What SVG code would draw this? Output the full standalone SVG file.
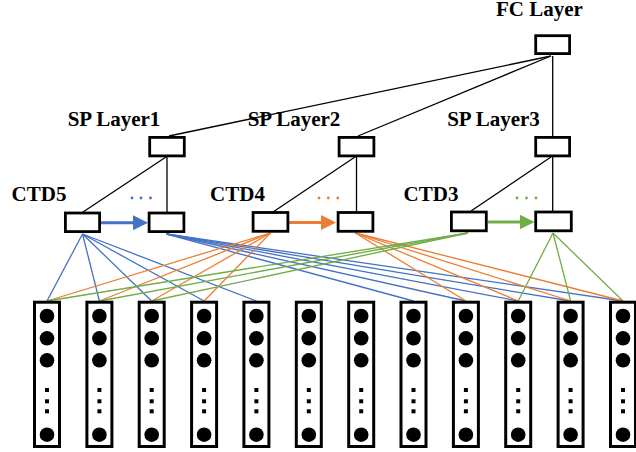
<svg xmlns="http://www.w3.org/2000/svg" xmlns:xlink="http://www.w3.org/1999/xlink" width="636" height="452" viewBox="0 0 636 452">
<style>
.lbl{font-family:"Liberation Serif","Times New Roman",serif;font-weight:bold;font-size:21px;fill:#000;text-anchor:middle}
.box{fill:#fff;stroke:#000;stroke-width:2.8}
.k{stroke:#000;stroke-width:1.3;fill:none}
.b{stroke:#4472C4;stroke-width:1.3;fill:none}
.o{stroke:#ED7D31;stroke-width:1.3;fill:none}
.g{stroke:#70AD47;stroke-width:1.3;fill:none}
.ab{stroke:#4472C4;stroke-width:3}
.ao{stroke:#ED7D31;stroke-width:3}
.ag{stroke:#70AD47;stroke-width:3}
</style>
<defs>
<marker id="mb" markerUnits="userSpaceOnUse" markerWidth="16" markerHeight="16" refX="2" refY="7.5" orient="auto"><path d="M0,0 L15,7.5 L0,15 z" fill="#4472C4"/></marker>
<marker id="mo" markerUnits="userSpaceOnUse" markerWidth="16" markerHeight="16" refX="2" refY="7.5" orient="auto"><path d="M0,0 L15,7.5 L0,15 z" fill="#ED7D31"/></marker>
<marker id="mg" markerUnits="userSpaceOnUse" markerWidth="16" markerHeight="16" refX="2" refY="7.5" orient="auto"><path d="M0,0 L15,7.5 L0,15 z" fill="#70AD47"/></marker>
<g id="column">
<rect x="-12.5" y="302.2" width="25" height="144.3" fill="#fff" stroke="#000" stroke-width="3"/>
<circle cx="0" cy="316" r="7.3"/>
<circle cx="0" cy="338.3" r="7.3"/>
<circle cx="0" cy="360.3" r="7.3"/>
<rect x="-2" y="388" width="4" height="4"/>
<rect x="-2" y="399.3" width="4" height="4"/>
<rect x="-2" y="409.3" width="4" height="4"/>
<circle cx="0" cy="434.7" r="7.3"/>
</g>
</defs>

<g id="connectors">
<!-- FC to SP -->
<line class="k" x1="551" y1="56" x2="169" y2="136"/>
<line class="k" x1="551" y1="56" x2="358" y2="136"/>
<line class="k" x1="552.7" y1="56" x2="552.7" y2="136"/>
<!-- SP to CTD -->
<line class="k" x1="166" y1="157" x2="83" y2="212"/>
<line class="k" x1="167" y1="157" x2="167" y2="212"/>
<line class="k" x1="355" y1="157" x2="273" y2="212"/>
<line class="k" x1="356.5" y1="157" x2="356.5" y2="212"/>
<line class="k" x1="551" y1="157" x2="471" y2="211"/>
<line class="k" x1="552.7" y1="157" x2="552.7" y2="211"/>
<!-- CTD5 blue -->
<line class="b" x1="82.5" y1="234" x2="47" y2="301"/>
<line class="b" x1="82.5" y1="234" x2="99.4" y2="301"/>
<line class="b" x1="82.5" y1="234" x2="151.7" y2="301"/>
<line class="b" x1="82.5" y1="234" x2="204.1" y2="301"/>
<line class="b" x1="82.5" y1="234" x2="256.4" y2="301"/>
<line class="b" x1="166.5" y1="234" x2="413.5" y2="301"/>
<line class="b" x1="166.5" y1="234" x2="465.9" y2="301"/>
<line class="b" x1="166.5" y1="234" x2="518.2" y2="301"/>
<line class="b" x1="166.5" y1="234" x2="570.6" y2="301"/>
<line class="b" x1="166.5" y1="234" x2="623" y2="301"/>
<!-- CTD4 orange -->
<line class="o" x1="270.5" y1="233" x2="47" y2="301"/>
<line class="o" x1="270.5" y1="233" x2="99.4" y2="301"/>
<line class="o" x1="270.5" y1="233" x2="151.7" y2="301"/>
<line class="o" x1="270.5" y1="233" x2="204.1" y2="301"/>
<line class="o" x1="355.5" y1="233" x2="465.9" y2="301"/>
<line class="o" x1="355.5" y1="233" x2="518.2" y2="301"/>
<line class="o" x1="355.5" y1="233" x2="570.6" y2="301"/>
<line class="o" x1="355.5" y1="233" x2="623" y2="301"/>
<!-- CTD3 green -->
<line class="g" x1="468" y1="233" x2="47" y2="301"/>
<line class="g" x1="468" y1="233" x2="99.4" y2="301"/>
<line class="g" x1="468" y1="233" x2="151.7" y2="301"/>
<line class="g" x1="553" y1="233" x2="518.2" y2="301"/>
<line class="g" x1="553" y1="233" x2="570.6" y2="301"/>
<line class="g" x1="553" y1="233" x2="623" y2="301"/>
<!-- arrows -->
<line class="ab" x1="101" y1="222.7" x2="135" y2="222.7" marker-end="url(#mb)"/>
<line class="ao" x1="289" y1="222.5" x2="323" y2="222.5" marker-end="url(#mo)"/>
<line class="ag" x1="488" y1="222" x2="521.5" y2="222" marker-end="url(#mg)"/>
</g>

<g id="fc"><rect class="box" x="535.7" y="35.7" width="33.9" height="17.9"/><text class="lbl" x="539.5" y="16">FC Layer</text></g>
<g id="sp1"><rect class="box" x="149.7" y="137.4" width="34.6" height="18.5"/><text class="lbl" x="114" y="126">SP Layer1</text></g>
<g id="sp2"><rect class="box" x="339.1" y="137.4" width="34.8" height="18.5"/><text class="lbl" x="294" y="126">SP Layer2</text></g>
<g id="sp3"><rect class="box" x="535.7" y="137.4" width="33.9" height="18.5"/><text class="lbl" x="493.5" y="126">SP Layer3</text></g>

<g id="ctd5">
<text class="lbl" x="39" y="201">CTD5</text>
<rect class="box" x="65.4" y="213" width="34.2" height="18.6"/>
<rect class="box" x="149.1" y="213" width="34.8" height="18.6"/>
<g fill="#4472C4"><circle cx="132" cy="198" r="1.4"/><circle cx="141" cy="198" r="1.4"/><circle cx="150.5" cy="198" r="1.4"/></g>
</g>
<g id="ctd4">
<text class="lbl" x="237.5" y="201">CTD4</text>
<rect class="box" x="253.1" y="212.5" width="34.8" height="18.8"/>
<rect class="box" x="338.1" y="212.5" width="34.8" height="18.8"/>
<g fill="#ED7D31"><circle cx="319" cy="198" r="1.4"/><circle cx="328.3" cy="198" r="1.4"/><circle cx="337.8" cy="198" r="1.4"/></g>
</g>
<g id="ctd3">
<text class="lbl" x="431" y="201">CTD3</text>
<rect class="box" x="451.4" y="212" width="34.9" height="18.8"/>
<rect class="box" x="535.7" y="212" width="35.6" height="18.8"/>
<g fill="#70AD47"><circle cx="517" cy="198" r="1.4"/><circle cx="526.5" cy="198" r="1.4"/><circle cx="536" cy="198" r="1.4"/></g>
</g>

<g id="col1"><use xlink:href="#column" x="47"/></g>
<g id="col2"><use xlink:href="#column" x="99.4"/></g>
<g id="col3"><use xlink:href="#column" x="151.7"/></g>
<g id="col4"><use xlink:href="#column" x="204.1"/></g>
<g id="col5"><use xlink:href="#column" x="256.4"/></g>
<g id="col6"><use xlink:href="#column" x="308.8"/></g>
<g id="col7"><use xlink:href="#column" x="361.2"/></g>
<g id="col8"><use xlink:href="#column" x="413.5"/></g>
<g id="col9"><use xlink:href="#column" x="465.9"/></g>
<g id="col10"><use xlink:href="#column" x="518.2"/></g>
<g id="col11"><use xlink:href="#column" x="570.6"/></g>
<g id="col12"><use xlink:href="#column" x="623"/></g>
</svg>
